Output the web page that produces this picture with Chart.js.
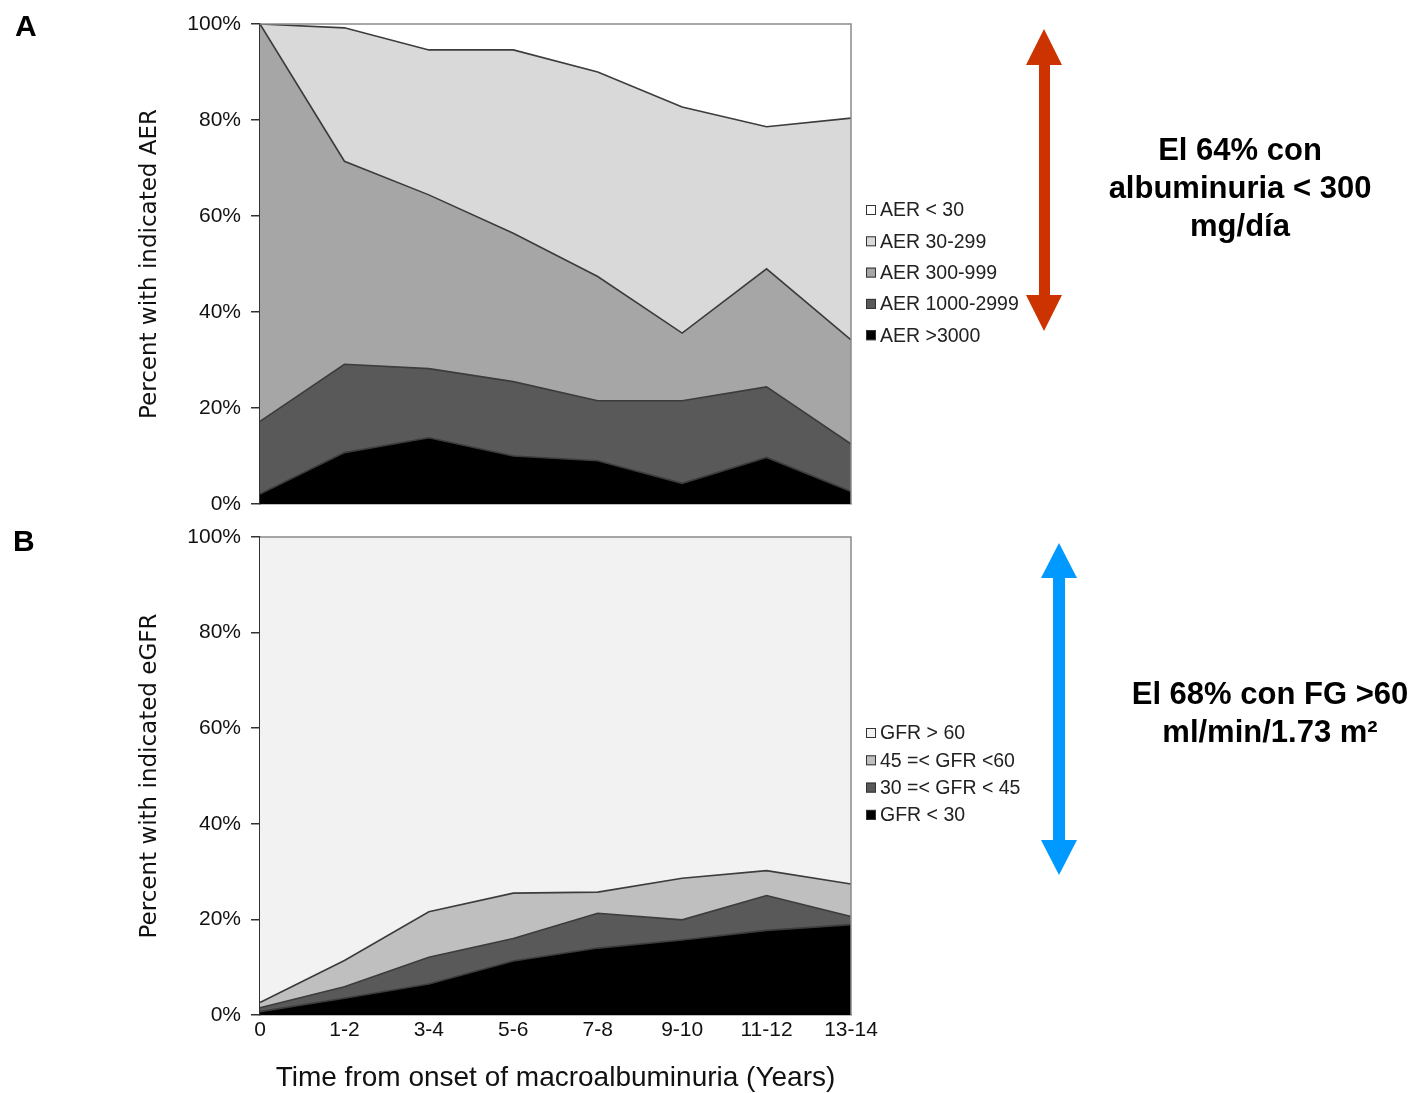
<!DOCTYPE html>
<html lang="es">
<head>
<meta charset="UTF-8">
<title>AER y eGFR desde el inicio de la macroalbuminuria</title>
<script src="https://cdn.jsdelivr.net/npm/chart.js"></script>
<style>
    body {
        margin: 0;
        width: 1419px;
        height: 1093px;
        position: relative;
        overflow: hidden;
        background: #fff;
        font-family: "Liberation Sans", Arial, sans-serif;
    }
    .wrap { position: absolute; left: 0; }
    #wrapA { top: 0; }
    #wrapB { top: 520px; }
    .letter {
        position: absolute;
        font-weight: bold;
        font-size: 30px;
        line-height: 30px;
    }
    .note {
        position: absolute;
        font-weight: bold;
        font-size: 31px;
        line-height: 38px;
        text-align: center;
        color: #000;
    }
    #arrows { position: absolute; left: 0; top: 0; }
</style>
</head>
<body>
    <div class="wrap" id="wrapA"><canvas id="chartA" width="1060" height="520"></canvas></div>
    <div class="wrap" id="wrapB"><canvas id="chartB" width="1060" height="573"></canvas></div>

    <div class="letter" style="left:15px; top:11px;">A</div>
    <div class="letter" style="left:13px; top:526px;">B</div>

    <svg id="arrows" width="1419" height="1093">
        <g fill="#cc3300">
            <rect x="1039" y="64" width="11" height="232"></rect>
            <polygon points="1044,29 1026,65 1062,65"></polygon>
            <polygon points="1044,331 1026,295 1062,295"></polygon>
        </g>
        <g fill="#0099ff">
            <rect x="1053" y="577" width="12" height="264"></rect>
            <polygon points="1059,543 1041,578 1077,578"></polygon>
            <polygon points="1059,875 1041,840 1077,840"></polygon>
        </g>
    </svg>

    <div class="note" style="left:1080px; top:131px; width:320px;">El 64% con<br>albuminuria &lt; 300<br>mg/día</div>
    <div class="note" style="left:1105px; top:675px; width:330px;">El 68% con FG &gt;60<br>ml/min/1.73 m²</div>

<script>
    // categories (years since onset of macroalbuminuria)
    const timeLabels = ['0', '1-2', '3-4', '5-6', '7-8', '9-10', '11-12', '13-14'];

    // panel A: percent of patients in each AER band (stacked, bottom to top)
    const aerGt3000     = [2.1, 10.7, 13.8, 10.0, 9.0, 4.3, 9.7, 2.6];
    const aer1000to2999 = [15.1, 18.4, 14.4, 15.5, 12.5, 17.2, 14.7, 9.9];
    const aer300to999   = [82.8, 42.3, 36.2, 30.9, 25.9, 14.1, 24.6, 21.7];
    const aer30to299    = [0.0, 27.8, 30.2, 38.2, 42.6, 47.1, 29.6, 46.2];
    const aerLt30       = [0.0, 0.8, 5.4, 5.4, 10.0, 17.3, 21.4, 19.6];

    // panel B: percent of patients in each eGFR band (stacked, bottom to top)
    const gfrLt30   = [0.7, 3.5, 6.5, 11.3, 14.0, 15.7, 17.7, 18.9];
    const gfr30to45 = [0.8, 2.4, 5.6, 4.7, 7.3, 4.2, 7.3, 1.7];
    const gfr45to60 = [1.1, 5.5, 9.5, 9.5, 4.4, 8.7, 5.2, 6.8];
    const gfrGt60   = [97.4, 88.6, 78.4, 74.5, 74.3, 71.4, 69.8, 72.6];

    const yTickValues = [0, 20, 40, 60, 80, 100];

    Chart.defaults.font.family = '"Liberation Sans", Arial, sans-serif';
    Chart.defaults.color = '#111';

    const edgeColor = '#3c3c3c';

    function band(label, data, color, index, lineWidth) {
        return {
            label: label,
            data: data,
            backgroundColor: color,
            borderColor: edgeColor,
            borderWidth: lineWidth === undefined ? 1.6 : lineWidth,
            fill: index === 0 ? 'origin' : '-1',
            pointRadius: 0,
            tension: 0
        };
    }

    // legend to the right of the plot, top band listed first
    const sideLegend = {
        id: 'sideLegend',
        afterDraw(chart, args, opts) {
            const ctx = chart.ctx;
            const area = chart.chartArea;
            const items = chart.data.datasets.slice().reverse();
            ctx.save();
            ctx.font = '19.5px "Liberation Sans", Arial, sans-serif';
            ctx.textBaseline = 'middle';
            items.forEach((ds, i) => {
                const x = area.right + 15;
                const y = opts.top + i * opts.gap;
                ctx.fillStyle = ds.backgroundColor;
                ctx.fillRect(x, y - 5, 10, 10);
                ctx.strokeStyle = '#333';
                ctx.lineWidth = 1;
                ctx.strokeRect(x + 0.5, y - 4.5, 9, 9);
                ctx.fillStyle = '#222';
                ctx.fillText(ds.label, x + 14, y + 1);
            });
            ctx.restore();
        }
    };

    // grey frame on top and right of the plot
    const plotFrame = {
        id: 'plotFrame',
        afterDatasetsDraw(chart) {
            const ctx = chart.ctx;
            const a = chart.chartArea;
            ctx.save();
            ctx.strokeStyle = '#8a8a8a';
            ctx.lineWidth = 1.5;
            ctx.beginPath();
            ctx.moveTo(a.left, a.top);
            ctx.lineTo(a.right, a.top);
            ctx.lineTo(a.right, a.bottom);
            ctx.stroke();
            ctx.restore();
        }
    };

    function makeChart(id, datasets, cfg) {
        const ctx = document.getElementById(id).getContext('2d');
        return new Chart(ctx, {
            type: 'line',
            data: { labels: timeLabels, datasets: datasets },
            options: {
                responsive: false,
                animation: false,
                layout: {
                    padding: { left: 130, top: cfg.padTop, right: 209, bottom: cfg.padBottom }
                },
                plugins: {
                    legend: { display: false },
                    tooltip: { enabled: false },
                    sideLegend: { top: cfg.legendTop, gap: cfg.legendGap }
                },
                scales: {
                    x: {
                        offset: false,
                        grid: { display: false, drawTicks: false },
                        border: { display: true, color: '#7a7a7a', width: 1.5 },
                        ticks: {
                            display: cfg.showX,
                            autoSkip: false,
                            maxRotation: 0,
                            padding: 3,
                            color: '#111',
                            font: { size: 21 }
                        },
                        title: {
                            display: cfg.showX,
                            text: 'Time from onset of macroalbuminuria (Years)',
                            color: '#111',
                            font: { size: 28 },
                            padding: { top: 0, bottom: -2 }
                        },
                        afterFit(scale) { scale.height = cfg.xHeight; }
                    },
                    y: {
                        stacked: true,
                        min: 0,
                        max: 100,
                        afterBuildTicks(scale) {
                            scale.ticks = yTickValues.map(v => ({ value: v }));
                        },
                        ticks: {
                            padding: 10,
                            color: '#111',
                            font: { size: 21 },
                            callback: v => v + '%'
                        },
                        grid: { drawOnChartArea: false, drawTicks: true, tickLength: 9, color: '#333', lineWidth: 1.5 },
                        border: { display: true, color: '#333', width: 1.5 },
                        title: {
                            display: true,
                            text: cfg.yTitle,
                            color: '#111',
                            font: { family: '"DejaVu Sans", sans-serif', size: 23 },
                            padding: { top: 6, bottom: 0 }
                        },
                        afterFit(scale) {
                            scale.width = 130;
                            // labels may overhang the plot edges; keep the plot box fixed
                            scale.paddingTop = 0;
                            scale.paddingBottom = 0;
                        }
                    }
                }
            },
            plugins: [sideLegend, plotFrame]
        });
    }

    makeChart('chartA', [
        band('AER >3000', aerGt3000, '#000000', 0),
        band('AER 1000-2999', aer1000to2999, '#595959', 1),
        band('AER 300-999', aer300to999, '#a6a6a6', 2),
        band('AER 30-299', aer30to299, '#d9d9d9', 3),
        band('AER < 30', aerLt30, '#ffffff', 4, 0)
    ], {
        padTop: 24, padBottom: 16, xHeight: 0, showX: false,
        legendTop: 210, legendGap: 31.3,
        yTitle: 'Percent with indicated AER'
    });

    makeChart('chartB', [
        band('GFR < 30', gfrLt30, '#000000', 0),
        band('30 =< GFR < 45', gfr30to45, '#595959', 1),
        band('45 =< GFR <60', gfr45to60, '#bfbfbf', 2),
        band('GFR > 60', gfrGt60, '#f2f2f2', 3, 0)
    ], {
        padTop: 17, padBottom: 0, xHeight: 78, showX: true,
        legendTop: 213, legendGap: 27.3,
        yTitle: 'Percent with indicated eGFR'
    });
</script>
</body>
</html>
